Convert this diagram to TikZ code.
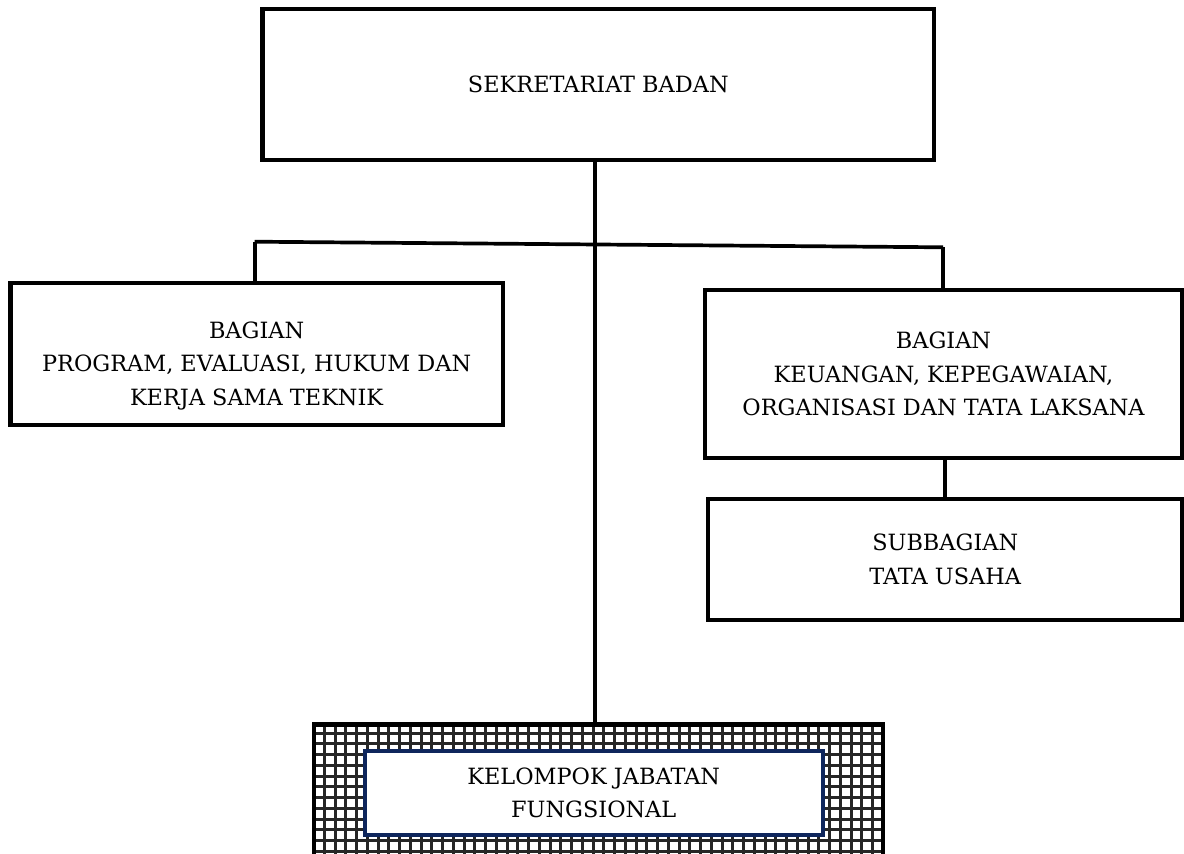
\documentclass[tikz,border=0pt]{standalone}
\usepackage{fontspec}
\setmainfont{DejaVu Serif}
\definecolor{navy}{RGB}{14,38,92}
\begin{document}
\begin{tikzpicture}[x=1pt,y=-1pt,
  box/.style={draw=black, line width=4.2pt, rectangle, inner sep=0pt},
  txt/.style={font=\fontsize{22.4}{33.5}\selectfont, align=center, inner sep=0pt},
  link/.style={draw=black, line width=3.7pt},
  gridline/.style={draw=black!85, line width=3pt}]
\useasboundingbox (0,0) rectangle (1184,854);

% boxes
\node[box, minimum width=671.5, minimum height=151] (sek) at (598.3,84.7) {};
\node[txt] (sekt) at (sek.center) {SEKRETARIAT BADAN};

\node[box, minimum width=492.3, minimum height=142.2] (pro) at (256.6,353.9) {};
\node[txt] (prot) at (256.6,366) {BAGIAN\\PROGRAM, EVALUASI, HUKUM DAN\\KERJA SAMA TEKNIK};

\node[box, minimum width=476.4, minimum height=168.6] (keu) at (943.5,374) {};
\node[txt] (keut) at (keu.center) {BAGIAN\\KEUANGAN, KEPEGAWAIAN,\\ORGANISASI DAN TATA LAKSANA};

\node[box, minimum width=473.7, minimum height=121.3] (tu) at (945.2,559.3) {};
\node[txt] (tut) at (tu.center) {SUBBAGIAN\\TATA USAHA};

% hatched frame
\begin{scope}
  \clip (313.7,722.3) rectangle (882.7,870);
  \foreach \i in {0,...,53} \draw[gridline] (313.7+\i*10.75,715) -- ++(0,160);
  \foreach \j in {0,...,14} \draw[gridline] (305,722.3+\j*10.75) -- ++(590,0);
\end{scope}
\node[box, minimum width=569, minimum height=150, anchor=north] (hat) at (598.2,722.3) {};

\node[draw=navy, line width=4pt, fill=white, inner sep=0pt, minimum width=458, minimum height=83.4] (jf) at (593.7,793) {};
\node[txt] (jft) at (jf.center) {KELOMPOK JABATAN\\FUNGSIONAL};

% connectors
\coordinate (j1) at (254.7,241.7);
\coordinate (j2) at (943,247.3);
\draw[link] ([xshift=-3.3pt]sek.south) -- ([xshift=-3.3pt]sek.south |- hat.north);
\draw[link] (j1) -- (j2);
\draw[link] (j1) -- (j1 |- pro.north);
\draw[link] (j2) -- (j2 |- keu.north);
\draw[link] ([xshift=1.2pt]keu.south) -- ([xshift=1.2pt]keu.south |- tu.north);
\end{tikzpicture}
\end{document}
